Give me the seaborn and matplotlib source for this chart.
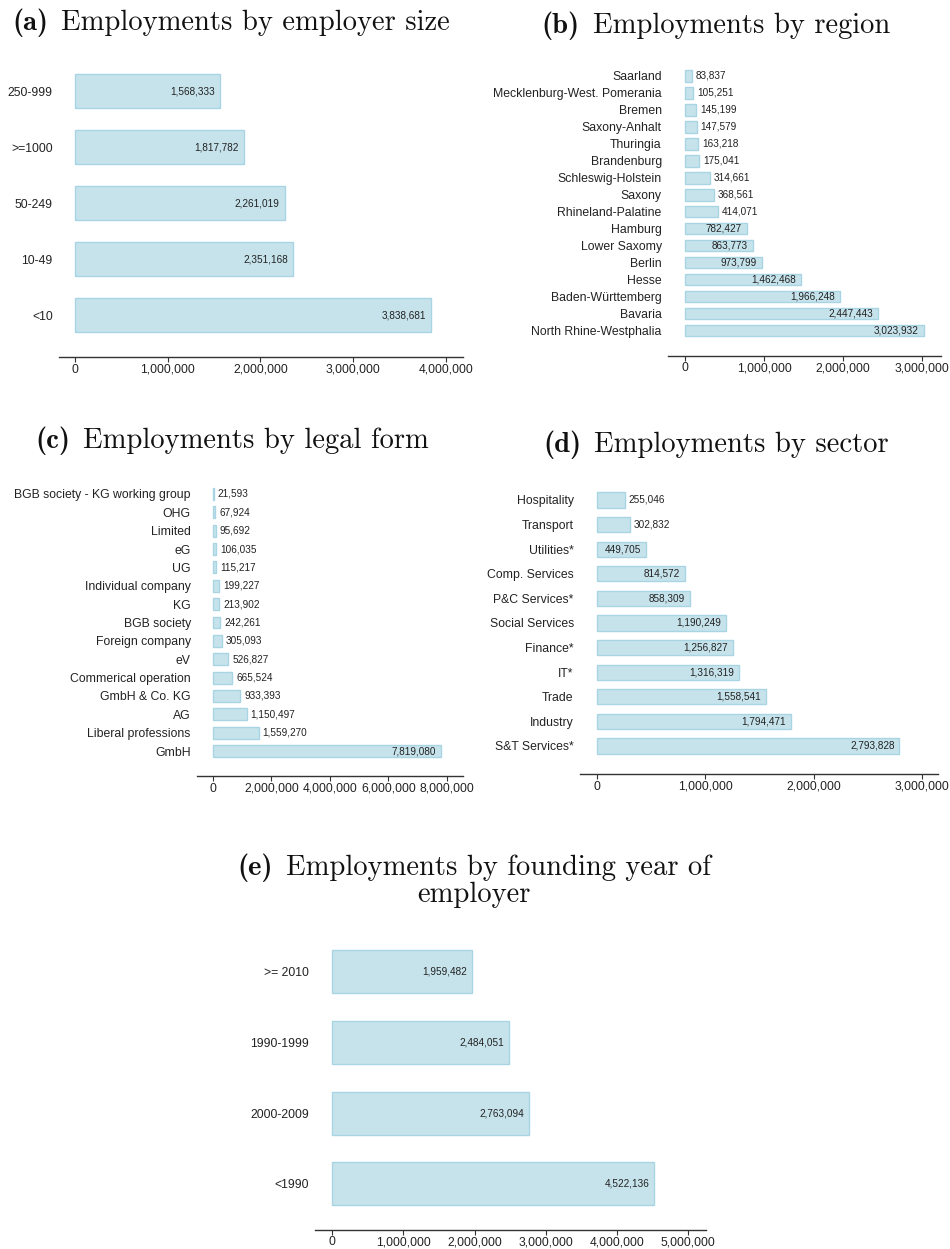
import matplotlib
matplotlib.use("Agg")
import matplotlib.pyplot as plt
from matplotlib.ticker import FuncFormatter, MultipleLocator
import seaborn as sns
import pandas as pd

# ---- data ----
size_labels = ["250-999", ">=1000", "50-249", "10-49", "<10"]
size_values = [1568333, 1817782, 2261019, 2351168, 3838681]

region_labels = ["Saarland", "Mecklenburg-West. Pomerania", "Bremen", "Saxony-Anhalt",
                 "Thuringia", "Brandenburg", "Schleswig-Holstein", "Saxony",
                 "Rhineland-Palatine", "Hamburg", "Lower Saxomy", "Berlin", "Hesse",
                 "Baden-Württemberg", "Bavaria", "North Rhine-Westphalia"]
region_values = [83837, 105251, 145199, 147579, 163218, 175041, 314661, 368561,
                 414071, 782427, 863773, 973799, 1462468, 1966248, 2447443, 3023932]

legal_labels = ["BGB society - KG working group", "OHG", "Limited", "eG", "UG",
                "Individual company", "KG", "BGB society", "Foreign company", "eV",
                "Commerical operation", "GmbH & Co. KG", "AG", "Liberal professions", "GmbH"]
legal_values = [21593, 67924, 95692, 106035, 115217, 199227, 213902, 242261, 305093,
                526827, 665524, 933393, 1150497, 1559270, 7819080]

sector_labels = ["Hospitality", "Transport", "Utilities*", "Comp. Services", "P&C Services*",
                 "Social Services", "Finance*", "IT*", "Trade", "Industry", "S&T Services*"]
sector_values = [255046, 302832, 449705, 814572, 858309, 1190249, 1256827, 1316319,
                 1558541, 1794471, 2793828]

year_labels = [">= 2010", "1990-1999", "2000-2009", "<1990"]
year_values = [1959482, 2484051, 2763094, 4522136]

# ---- style ----
sns.set_theme(style="white")
plt.rcParams["font.family"] = ["Liberation Sans", "DejaVu Sans"]
plt.rcParams["axes.unicode_minus"] = False

FILL = "#c6e3ec"
EDGE = "#a8d4e3"
INK = "#222222"

W, H = 950, 1249
fig = plt.figure(figsize=(W / 100, H / 100), dpi=100)


def px_axes(left, right, top, bottom):
    return fig.add_axes([left / W, 1 - bottom / H, (right - left) / W, (bottom - top) / H])


def panel(labels, values, box, xlim, ylim_bottom, step, bar_w):
    left, right, top, bottom = box
    ax = px_axes(left, right, top, bottom)
    df = pd.DataFrame({"label": labels, "value": values})
    sns.barplot(data=df, x="value", y="label", orient="h", color=FILL, saturation=1,
                width=bar_w, edgecolor=EDGE, linewidth=1.0, ax=ax)
    ax.set_xlim(*xlim)
    ax.set_ylim(ylim_bottom, -0.5)
    ax.set_xlabel("")
    ax.set_ylabel("")
    for s in ["left", "right", "top"]:
        ax.spines[s].set_visible(False)
    ax.spines["bottom"].set_color("#333333")
    ax.spines["bottom"].set_linewidth(1.0)
    ax.xaxis.set_major_locator(MultipleLocator(step))
    ax.xaxis.set_major_formatter(FuncFormatter(lambda v, p: f"{v:,.0f}"))
    ax.tick_params(axis="x", bottom=True, length=3.5, width=0.8, color="#333333",
                   pad=1.2, labelsize=8.7, labelcolor=INK)
    ax.tick_params(axis="y", left=False, length=0, pad=4.5, labelsize=8.8, labelcolor=INK)
    ax.grid(False)
    return ax


def annotate(ax, values):
    fig.canvas.draw()
    r = fig.canvas.get_renderer()
    to_px = ax.transData.transform
    inv = ax.transData.inverted()
    for i, v in enumerate(values):
        x0 = to_px((0, i))[0]
        x1 = to_px((v, i))[0]
        t = ax.text(v, i, f"{v:,}", ha="right", va="center", fontsize=7.2, color=INK)
        ext = t.get_window_extent(renderer=r)
        if ext.width + 10 < (x1 - x0):
            # fits inside the bar
            t.set_position((inv.transform((x1 - 5, 0))[0], i))
        else:
            t.set_ha("left")
            t.set_position((inv.transform((x1 + 4, 0))[0], i))


# (a) employer size
ax_a = panel(size_labels, size_values, (59, 463, 63, 357), (-173000, 4184000), 4.75, 1_000_000, 0.615)
# (b) region
ax_b = panel(region_labels, region_values, (668, 941, 67.5, 355.6), (-215000, 3240000), 16.45, 1_000_000, 0.65)
# (c) legal form
ax_c = panel(legal_labels, legal_values, (197, 463, 484.8, 776), (-550000, 8560000), 15.36, 2_000_000, 0.65)
# (d) sector
ax_d = panel(sector_labels, sector_values, (580, 938, 487.7, 774), (-157000, 3150000), 11.14, 1_000_000, 0.62)
# (e) founding year
ax_e = panel(year_labels, year_values, (315, 706, 936.6, 1229.5), (-240000, 5250000), 3.645, 1_000_000, 0.61)

for ax, vals in [(ax_a, size_values), (ax_b, region_values), (ax_c, legal_values),
                 (ax_d, sector_values), (ax_e, year_values)]:
    annotate(ax, vals)

# ---- panel titles: bold letter in cmb10, caption in cmr10 ----
TS = 20.6
TCOL = "#111111"


def title(x, y, letter, text, align="left"):
    fig.canvas.draw()
    r = fig.canvas.get_renderer()
    lead = fig.text(0, 1 - y / H, f"({letter})", fontsize=TS, family="cmb10",
                    ha="left", va="baseline", color=TCOL)
    rest = fig.text(0, 1 - y / H, text, fontsize=TS, family="cmr10",
                    ha="left", va="baseline", color=TCOL)
    w1 = lead.get_window_extent(renderer=r).width
    w2 = rest.get_window_extent(renderer=r).width
    gap = 13
    total = w1 + gap + w2
    start = x if align == "left" else x - total / 2
    lead.set_x(start / W)
    rest.set_x((start + w1 + gap) / W)


title(12, 30, "a", "Employments by employer size")
title(716, 33, "b", "Employments by region", align="center")
title(232, 448, "c", "Employments by legal form", align="center")
title(716, 452, "d", "Employments by sector", align="center")
title(474, 875, "e", "Employments by founding year of", align="center")
fig.text(474 / W, 1 - 902 / H, "employer", fontsize=TS, family="cmr10",
         ha="center", va="baseline", color=TCOL)

fig.savefig("out.png", dpi=100)
